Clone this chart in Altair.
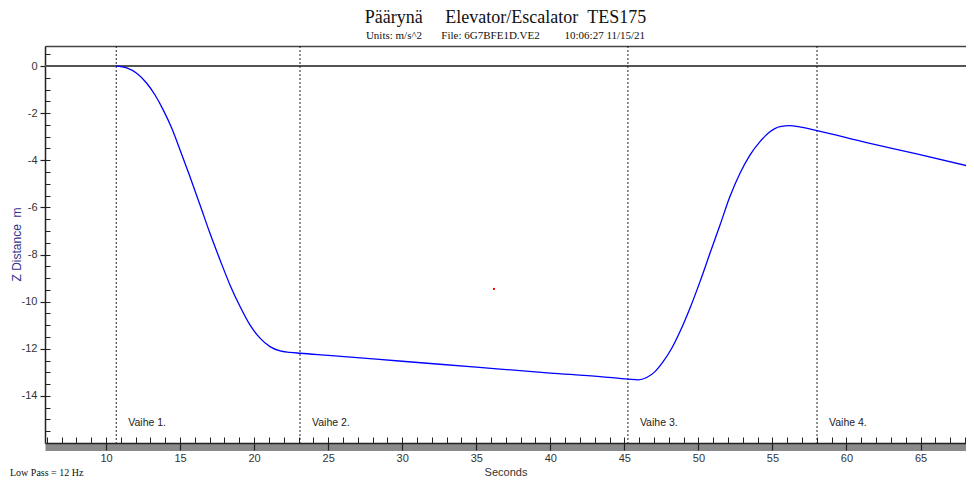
import altair as alt
import pandas as pd

# ---- data ----
seconds = [10.68, 11.40, 12.07, 12.75, 13.31, 13.87, 14.44, 15.00, 15.67, 16.35,
           17.02, 17.70, 18.37, 19.05, 19.72, 20.40, 21.07, 21.75, 22.42, 23.10,
           25.0, 30.0, 35.0, 40.0, 43.36, 45.25, 45.94, 46.51, 47.07, 47.63,
           48.20, 48.76, 49.43, 50.11, 50.78, 51.46, 52.13, 52.81, 53.48, 54.16,
           54.83, 55.51, 56.18, 56.75, 58.01, 61.36, 64.74, 68.60]
z_distance = [0.0, -0.08, -0.31, -0.73, -1.23, -1.87, -2.64, -3.56, -4.70, -5.90,
              -7.10, -8.23, -9.29, -10.21, -10.99, -11.55, -11.91, -12.09, -12.15, -12.19,
              -12.28, -12.53, -12.78, -13.03, -13.18, -13.29, -13.32, -13.22, -12.97, -12.54,
              -11.98, -11.27, -10.28, -9.15, -7.95, -6.75, -5.54, -4.55, -3.78, -3.21,
              -2.79, -2.57, -2.53, -2.57, -2.74, -3.25, -3.73, -4.30]

phase_times = [10.69, 23.10, 45.24, 58.01]
phase_labels = ["Vaihe 1.", "Vaihe 2.", "Vaihe 3.", "Vaihe 4."]

marker_t = [36.2]
marker_z = [-9.46]

x_major = [10, 15, 20, 25, 30, 35, 40, 45, 50, 55, 60, 65]
x_minor = list(range(6, 69))
y_major = [-14, -12, -10, -8, -6, -4, -2, 0]
y_minor = [v / 2 for v in range(-31, 2)]

X_DOMAIN = [5.88, 68.07]
Y_DOMAIN = [-16.0, 0.85]

curve = pd.DataFrame({"t": seconds, "z": z_distance})
phases = pd.DataFrame({"t": phase_times, "label": phase_labels})
marker = pd.DataFrame({"t": marker_t, "z": marker_z})

xs = alt.Scale(domain=X_DOMAIN, nice=False, zero=False)
ys = alt.Scale(domain=Y_DOMAIN, nice=False, zero=False)

SANS = "Liberation Sans"
SERIF = "Liberation Serif"
AX = "#222222"

# shadow band under bottom axis
shadow = alt.Chart(curve).mark_point(opacity=0).encode(
    x=alt.X("t:Q", scale=xs, axis=alt.Axis(
        orient="bottom", offset=4, domain=True, domainColor="#8a8a8a", domainWidth=7,
        ticks=False, labels=False, title=None, grid=False))
)

# top border
top_border = alt.Chart(curve).mark_point(opacity=0).encode(
    x=alt.X("t:Q", scale=xs, axis=alt.Axis(
        orient="top", domain=True, domainColor="#444444", domainWidth=1.5,
        ticks=False, labels=False, title=None, grid=False))
)

# inward minor ticks (x)
x_minor_axis = alt.Chart(curve).mark_point(opacity=0).encode(
    x=alt.X("t:Q", scale=xs, axis=alt.Axis(
        orient="bottom", offset=-6, values=x_minor, tickSize=6, tickColor=AX, tickWidth=1,
        domain=False, labels=False, title=None, grid=False))
)

# inward minor ticks (y)
y_minor_axis = alt.Chart(curve).mark_point(opacity=0).encode(
    y=alt.Y("z:Q", scale=ys, axis=alt.Axis(
        orient="left", offset=-5, values=y_minor, tickSize=5, tickColor=AX, tickWidth=1,
        domain=False, labels=False, title=None, grid=False))
)

# zero line
zero_line = alt.Chart(curve).mark_rule(color="#555555", strokeWidth=1.5).encode(
    y=alt.YDatum(0, scale=ys, axis=None)
)

# phase lines
phase_lines = alt.Chart(phases).mark_rule(color="#222222", strokeWidth=1, strokeDash=[2, 2]).encode(
    x=alt.X("t:Q", scale=xs, axis=None)
)

phase_text = alt.Chart(phases).mark_text(
    align="left", baseline="middle", dx=12, font=SANS, fontSize=10.5, color="#222222"
).encode(
    x=alt.X("t:Q", scale=xs, axis=None),
    y=alt.YDatum(-15.15, scale=ys, axis=None),
    text="label:N",
)

# main curve with main axes
line = alt.Chart(curve).mark_line(color="#0000ff", strokeWidth=1.3, clip=True, interpolate="monotone").encode(
    x=alt.X("t:Q", scale=xs, axis=alt.Axis(
        orient="bottom", values=x_major, labelExpr="datum.value + ''", tickSize=7, tickColor=AX, tickWidth=1.2,
        domain=True, domainColor=AX, domainWidth=1.5,
        labelFont=SANS, labelFontSize=11, labelColor="#333333", labelPadding=2,
        title="Seconds", titleFont=SANS, titleFontSize=11, titleFontWeight="normal",
        titleColor="#333333", titlePadding=3, grid=False)),
    y=alt.Y("z:Q", scale=ys, axis=alt.Axis(
        orient="left", values=y_major, labelExpr="datum.value + ''", tickSize=5, tickColor=AX, tickWidth=1.2,
        domain=True, domainColor=AX, domainWidth=1.5,
        labelFont=SANS, labelFontSize=11, labelColor="#333333", labelPadding=3,
        title="Z Distance\u00a0\u00a0m", titleFont=SANS, titleFontSize=12, titleFontWeight="normal",
        titleColor="#33338a", titleAngle=270, titleAlign="center", titleBaseline="bottom",
        titleX=-22, titleY=198, grid=False)),
)

dot = alt.Chart(marker).mark_square(size=4, color="#ff0000", opacity=1).encode(
    x=alt.X("t:Q", scale=xs, axis=None),
    y=alt.Y("z:Q", scale=ys, axis=None),
)

title = alt.TitleParams(
    text="Päärynä" + "\u00a0" * 5 + "Elevator/Escalator" + "\u00a0" * 2 + "TES175",
    subtitle="Units: m/s^2" + "\u00a0" * 7 + "File: 6G7BFE1D.VE2" + "\u00a0" * 9 + "10:06:27 11/15/21",
    font=SERIF, fontSize=18, fontWeight="normal", color="#111111",
    subtitleFont=SERIF, subtitleFontSize=11, subtitleColor="#111111", subtitlePadding=2.5,
    anchor="middle", frame="group", offset=5,
)

low_pass = alt.Chart(pd.DataFrame({"txt": ["Low Pass = 12 Hz"]})).mark_text(
    align="left", baseline="middle", font=SERIF, fontSize=10, color="#111111"
).encode(
    x=alt.value(-35), y=alt.value(427), text="txt:N"
)

chart = alt.layer(
    shadow, top_border, zero_line, phase_lines, x_minor_axis, y_minor_axis,
    line, phase_text, dot, low_pass
).resolve_scale(x="independent", y="independent").properties(
    width=921, height=397,
    padding={"left": 37, "top": 38, "right": 0, "bottom": 35},
    autosize=alt.AutoSizeParams(type="none"),
    title=title,
).configure_view(stroke=None).configure(background="white")

chart.save("out.html", embed_options={"renderer": "svg", "actions": False})
